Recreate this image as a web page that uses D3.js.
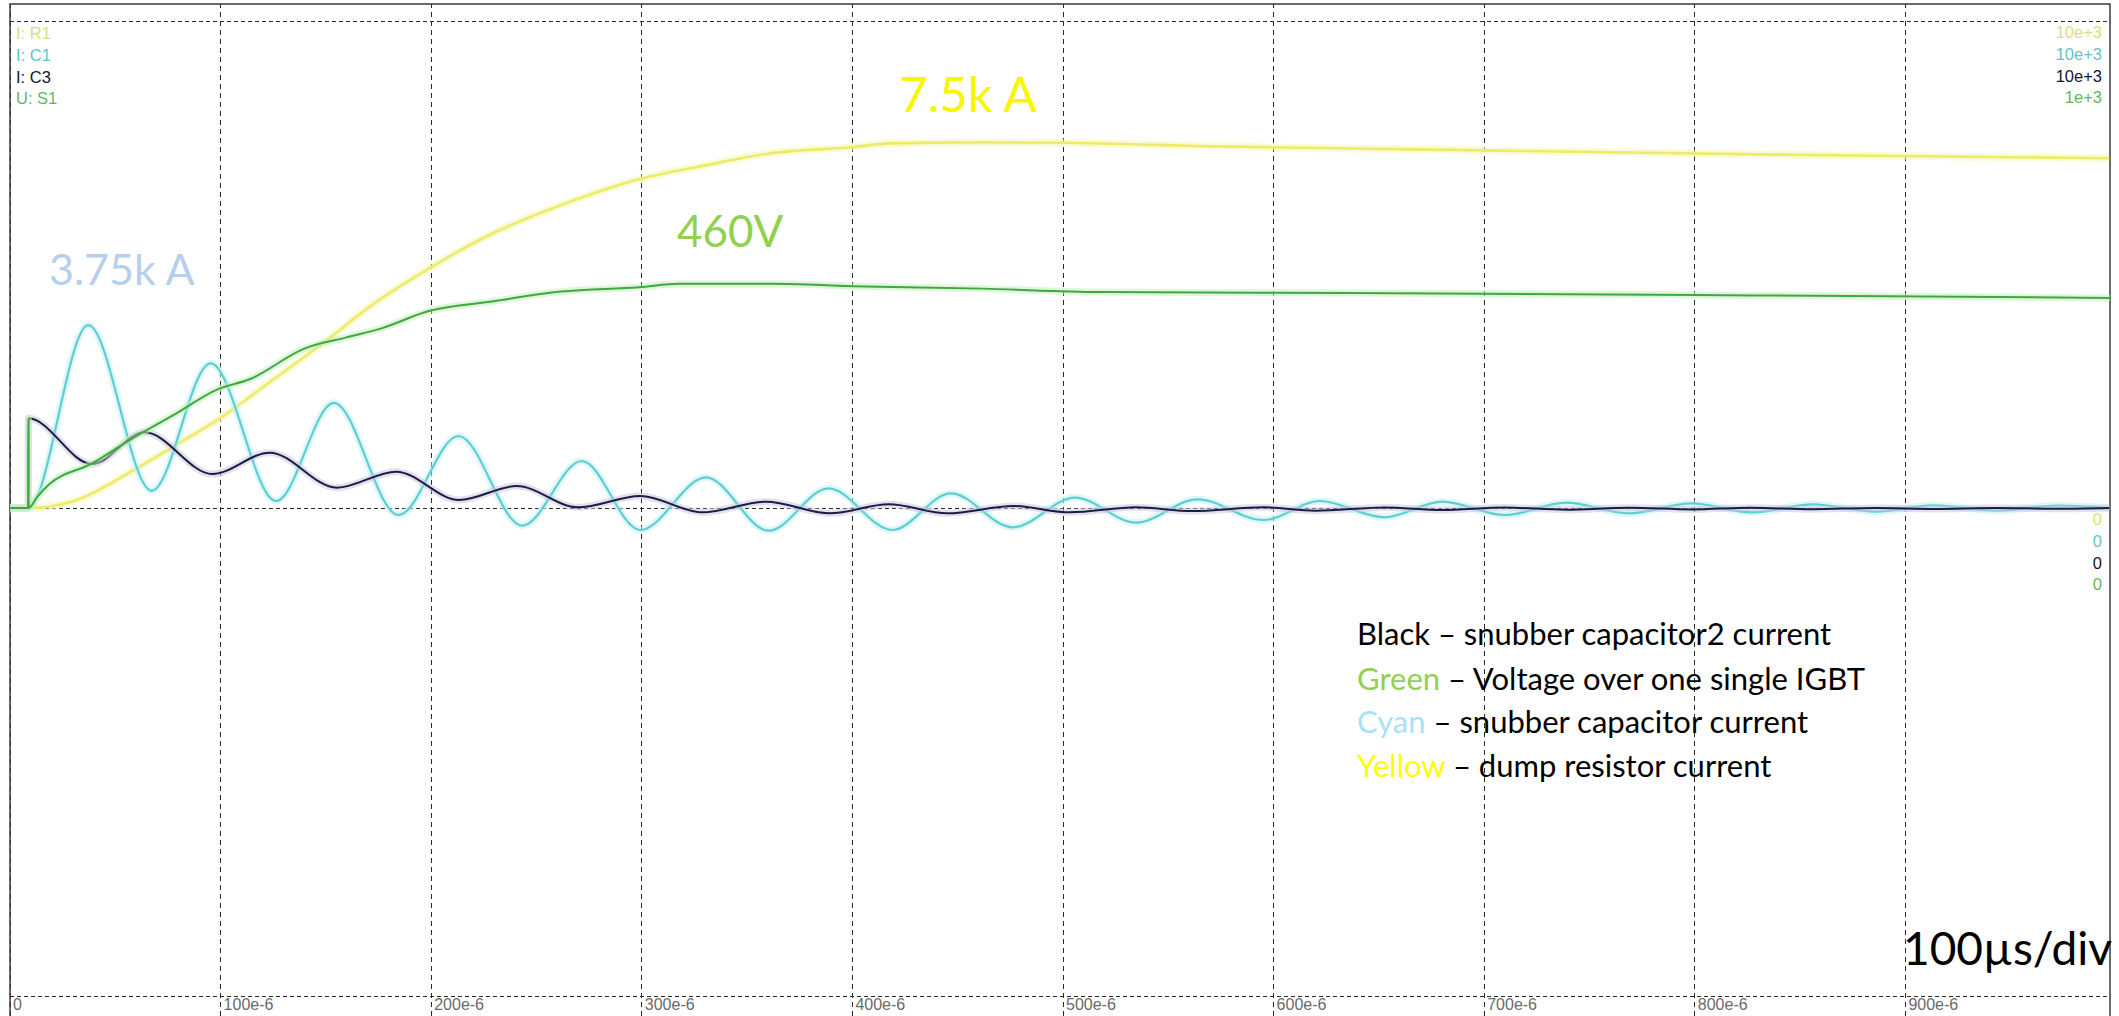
<!DOCTYPE html>
<html>
<head>
<meta charset="utf-8">
<script src="https://cdn.jsdelivr.net/npm/d3@7"></script>
<style>
  html, body { margin: 0; padding: 0; background: #ffffff; }
  svg { display: block; }
</style>
</head>
<body>
<svg id="scope" width="2119" height="1016"></svg>
<script>
// ---- time base: 100 µs per division ----
const tickValues = [0, 100e-6, 200e-6, 300e-6, 400e-6, 500e-6, 600e-6, 700e-6, 800e-6, 900e-6];
const tickLabels = ["0", "100e-6", "200e-6", "300e-6", "400e-6", "500e-6", "600e-6", "700e-6", "800e-6", "900e-6"];

// ---- channel headers, volts/amps per division and zero markers ----
const channelNames  = ["I: R1", "I: C1", "I: C3", "U: S1"];
const channelScales = ["10e+3", "10e+3", "10e+3", "1e+3"];
const channelZeros  = ["0", "0", "0", "0"];

// ---- R1: dump resistor current (time in µs, current in A) ----
const r1Time    = [0, 8.9, 31.8, 55.5, 79, 99.4, 122.7, 150, 171.7, 199.3, 228.6, 262, 299.3, 328.6, 361.9, 399.6, 418.6, 461.8, 499.5, 573, 701, 830, 997];
const r1Current = [0, 0, 160, 692, 1292, 1823, 2555, 3420, 4152, 4917, 5616, 6214, 6748, 7013, 7280, 7400, 7480, 7500, 7492, 7417, 7336, 7254, 7174];

// ---- C1: snubber capacitor current ----
const c1Time    = [0, 8.9, 37.4, 67.5, 95.5, 126.6, 154, 184.7, 213.2, 243.5, 271.7, 299.5, 330.7, 360.5, 388.9, 419.1, 447, 476.4, 505.9, 534.9, 564, 595.5, 622.2, 652.8, 680.3, 710.2, 739, 768.8, 798.7, 827.4, 856.2, 886, 913.6, 943.5, 972.3, 997];
const c1Current = [0, 0, 3750, 352, 2968, 144, 2157, -144, 1477, -362, 964, -451, 629, -465, 403, -451, 301, -396, 212, -301, 178, -246, 144, -191, 130, -144, 109, -109, 96, -89, 75, -75, 55, -55, 48, 0];

// ---- C3: snubber capacitor 2 current ----
const c3Time    = [0, 8.9, 9.0, 39.1, 64.2, 96.3, 123.6, 155.4, 183.6, 213.5, 240.8, 269.9, 299.5, 329, 359.3, 389.6, 417.5, 445.3, 476.8, 503.5, 534.9, 561.5, 595.5, 620, 653, 680, 710, 739, 769, 799, 827, 856, 886, 914, 943, 972, 997];
const c3Current = [0, 0, 1840, 902, 1552, 697, 1135, 417, 746, 164, 451, 14, 246, -89, 130, -109, 75, -109, 41, -89, 14, -62, 14, -55, 10, -40, 10, -35, 5, -30, 5, -25, 0, -20, 0, -15, 0];

// ---- S1: voltage over one IGBT (V) ----
const s1Time    = [0, 8.9, 9.0, 9.1, 13, 19, 39, 58, 78, 99, 114, 140, 160, 177, 199, 228, 262, 299, 318, 362, 400, 462, 518, 637, 830, 998];
const s1Voltage = [0, 0, 184, 0, 22, 49, 91, 142, 191, 244, 264, 327, 350, 369, 404, 423, 444, 453, 460, 460, 455, 450, 443, 441, 436, 431];

// ---- annotation texts ----
const peakLabels  = ["7.5k A", "460V", "3.75k A"];
const legendKeys  = ["Black", "Green", "Cyan", "Yellow"];
const legendTexts = [" – snubber capacitor2 current", " – Voltage over one single IGBT", " – snubber capacitor current", " – dump resistor current"];
const timebaseLabel = "100µs/div";

// ---------------------------------------------------------------
const W = 2119, H = 1016;
const frame = { left: 10, right: 2110, top: 4, bottom: 1030 };

const svg = d3.select("#scope");

const x  = d3.scaleLinear().domain([0, 1e-3]).range([9.5, 2115.5]);
const yI = d3.scaleLinear().domain([-10000, 10000]).range([995.5, 20.5]);
const yU = d3.scaleLinear().domain([-1000, 1000]).range([995.5, 20.5]);

const traceColor = { r1: "#ecec6a", c1: "#5ccfd2", c3: "#1c1c48", s1: "#3fa83f" };
const haloColor  = { r1: "#f6f6b4", c1: "#c6f1f2", c3: "#c9c9dc", s1: "#c4eec0" };
const labelColor = ["#dede78", "#62c4c8", "#15152a", "#62b862"];

svg.append("rect").attr("width", W).attr("height", H).attr("fill", "#ffffff");

svg.append("defs").append("clipPath").attr("id", "plotClip")
  .append("rect")
  .attr("x", frame.left).attr("y", frame.top)
  .attr("width", frame.right - frame.left).attr("height", frame.bottom - frame.top);

// ---- vertical grid + time labels (bottom axis) ----
const xAxis = d3.axisBottom(x)
  .tickValues(tickValues)
  .tickFormat((d, i) => tickLabels[i])
  .tickSizeInner(-(H - frame.top))
  .tickSizeOuter(0);

const gx = svg.append("g").attr("transform", `translate(0,${H})`).call(xAxis);
gx.select(".domain").remove();
gx.selectAll(".tick line")
  .attr("stroke", "#2a2a2a")
  .attr("stroke-width", 1)
  .attr("stroke-dasharray", "5,4")
  .attr("shape-rendering", "crispEdges");
gx.selectAll(".tick text")
  .attr("x", 3)
  .attr("y", -6)
  .attr("dy", null)
  .attr("text-anchor", "start")
  .attr("fill", "#6a6a6a")
  .attr("font-family", "'Liberation Sans', Arial, sans-serif")
  .attr("font-size", 16);

// ---- horizontal grid (top, zero, bottom divisions) ----
const yAxis = d3.axisLeft(yI)
  .tickValues([10000, 0, -10000])
  .tickFormat("")
  .tickSizeInner(-(frame.right - frame.left))
  .tickSizeOuter(0);
const gy = svg.append("g").attr("transform", `translate(${frame.left},0)`).call(yAxis);
gy.select(".domain").remove();
gy.selectAll(".tick line")
  .attr("stroke", "#2a2a2a")
  .attr("stroke-width", 1)
  .attr("stroke-dasharray", "4,3")
  .attr("shape-rendering", "crispEdges");

// ---- frame ----
svg.append("path")
  .attr("d", `M${frame.left},${H + 5}V${frame.top}H${frame.right}V${H + 5}`)
  .attr("fill", "none")
  .attr("stroke", "#3a3a3a")
  .attr("stroke-width", 1.5);

// ---- traces ----
const plot = svg.append("g").attr("clip-path", "url(#plotClip)");

function drawTrace(times, values, yScale, key, width) {
  const pts = d3.zip(times, values);
  const line = d3.line()
    .x(d => x(d[0] * 1e-6))
    .y(d => yScale(d[1]))
    .curve(d3.curveMonotoneX);
  plot.append("path").datum(pts)
    .attr("d", line)
    .attr("fill", "none")
    .attr("stroke", haloColor[key])
    .attr("stroke-width", width + 5)
    .attr("stroke-opacity", 0.55)
    .attr("stroke-linejoin", "round");
  plot.append("path").datum(pts)
    .attr("d", line)
    .attr("fill", "none")
    .attr("stroke", traceColor[key])
    .attr("stroke-width", width)
    .attr("stroke-linejoin", "round");
}

drawTrace(r1Time, r1Current, yI, "r1", 2.6);
drawTrace(c1Time, c1Current, yI, "c1", 2.2);
drawTrace(c3Time, c3Current, yI, "c3", 2);
drawTrace(s1Time, s1Voltage, yU, "s1", 2);

// ---- channel headers (left) ----
const smallFont = "'Liberation Sans', Arial, sans-serif";
const headerBase = [39, 61, 83, 104];
svg.append("g").selectAll("text").data(channelNames).join("text")
  .attr("x", 16)
  .attr("y", (d, i) => headerBase[i])
  .attr("fill", (d, i) => labelColor[i])
  .attr("font-family", smallFont)
  .attr("font-size", 16.5)
  .text(d => d);

// ---- per-division scales (right) ----
const scaleBase = [38, 60, 82, 103];
svg.append("g").selectAll("text").data(channelScales).join("text")
  .attr("x", 2102)
  .attr("y", (d, i) => scaleBase[i])
  .attr("text-anchor", "end")
  .attr("fill", (d, i) => labelColor[i])
  .attr("font-family", smallFont)
  .attr("font-size", 16.5)
  .text(d => d);

// ---- zero markers (right) ----
const zeroBase = [525, 547, 569, 590];
svg.append("g").selectAll("text").data(channelZeros).join("text")
  .attr("x", 2102)
  .attr("y", (d, i) => zeroBase[i])
  .attr("text-anchor", "end")
  .attr("fill", (d, i) => labelColor[i])
  .attr("font-family", smallFont)
  .attr("font-size", 16.5)
  .text(d => d);

// ---- peak annotations ----
const bigFont = "Lato, 'Open Sans', sans-serif";
const peakPos = [
  { x: 899, y: 112, size: 49, color: "#f7f700" },
  { x: 677, y: 247, size: 44, color: "#92d050" },
  { x: 49,  y: 285, size: 43, color: "#b6cfea" }
];
svg.append("g").selectAll("text").data(peakLabels).join("text")
  .attr("x", (d, i) => peakPos[i].x)
  .attr("y", (d, i) => peakPos[i].y)
  .attr("fill", (d, i) => peakPos[i].color)
  .attr("font-family", bigFont)
  .attr("font-size", (d, i) => peakPos[i].size)
  .text(d => d);

// ---- colour legend ----
const keyColor = ["#000000", "#92d050", "#a8e2f6", "#ffff00"];
const legendBase = [645, 690, 733, 777];
const legend = svg.append("g").selectAll("text").data(legendKeys).join("text")
  .attr("x", 1357)
  .attr("y", (d, i) => legendBase[i])
  .attr("font-family", bigFont)
  .attr("font-size", 31)
  .attr("fill", "#000000");
legend.append("tspan").attr("fill", (d, i) => keyColor[i]).text(d => d);
legend.append("tspan").attr("fill", "#000000").text((d, i) => legendTexts[i]);

// ---- time base note ----
svg.append("text")
  .attr("x", 1903)
  .attr("y", 965)
  .attr("font-family", bigFont)
  .attr("font-size", 46)
  .attr("fill", "#000000")
  .text(timebaseLabel);
</script>
</body>
</html>
